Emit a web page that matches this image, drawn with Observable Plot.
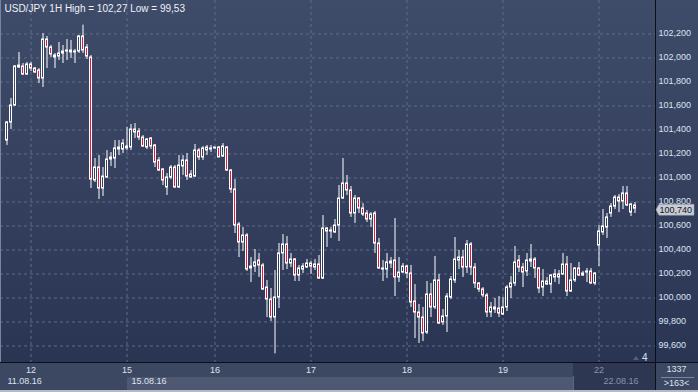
<!DOCTYPE html>
<html><head><meta charset="utf-8">
<script src="https://cdn.jsdelivr.net/npm/d3@7"></script>
<script src="https://cdn.jsdelivr.net/npm/@observablehq/plot@0.6"></script>
<style>
html,body{margin:0;padding:0;background:#2b3655;}
#chart{width:698px;height:392px;overflow:hidden;}
#chart svg{display:block;}
</style></head><body><div id="chart"></div>
<script>
// ---- data (USD/JPY, 1H candles) ----
const opens = [101.308,101.458,101.600,101.917,101.925,101.858,101.942,101.908,101.892,101.825,
102.150,102.083,102.017,102.008,102.033,102.050,102.042,102.042,102.050,102.175,
102.083,102.000,100.975,101.083,100.908,101.000,101.150,101.158,101.250,101.233,
101.242,101.250,101.400,101.383,101.333,101.250,101.325,101.267,101.142,101.067,
100.917,101.000,101.083,100.917,101.092,101.142,101.025,101.008,101.225,101.167,
101.250,101.233,101.242,101.250,101.175,101.250,101.058,100.900,100.608,100.458,
100.517,100.242,100.258,100.308,100.267,100.083,99.983,99.833,100.000,100.367,
100.442,100.283,100.317,100.183,100.233,100.250,100.283,100.250,100.275,100.158,
100.575,100.550,100.542,100.600,100.825,100.950,100.892,100.700,100.825,100.742,
100.700,100.650,100.700,100.450,100.233,100.233,100.283,100.308,100.167,100.208,
100.258,100.200,99.967,99.875,99.833,99.708,100.025,99.917,100.142,99.792,
99.842,100.000,100.142,100.308,100.333,100.250,100.442,100.250,100.117,100.067,
100.017,99.875,99.900,99.908,99.858,99.917,100.083,100.117,100.308,100.250,
100.217,100.300,100.317,100.242,100.083,100.133,100.108,100.192,100.167,100.192,
100.275,100.050,100.142,100.242,100.183,100.208,100.217,100.117,100.433,100.542,
100.583,100.700,100.758,100.833,100.800,100.867,100.708,100.767];
const highs = [101.467,101.658,101.933,102.042,101.950,101.958,101.958,101.917,101.908,102.200,
102.175,102.100,102.033,102.125,102.100,102.150,102.142,102.067,102.183,102.270,
102.108,102.017,101.158,101.183,101.083,101.225,101.208,101.308,101.308,101.317,
101.417,101.442,101.450,101.408,101.350,101.325,101.333,101.275,101.167,101.075,
101.033,101.100,101.100,101.183,101.183,101.200,101.058,101.275,101.242,101.258,
101.267,101.267,101.250,101.258,101.283,101.258,101.067,100.983,100.625,100.583,
100.533,100.333,100.400,100.367,100.283,100.142,100.075,100.225,100.450,100.525,
100.508,100.367,100.325,100.267,100.283,100.317,100.300,100.317,100.350,100.683,
100.583,100.583,100.650,100.933,101.158,101.017,100.925,100.850,100.833,100.783,
100.725,100.708,100.717,100.492,100.308,100.367,100.333,100.658,100.333,100.283,
100.267,100.267,100.108,99.942,99.917,100.133,100.117,100.342,100.192,99.900,
100.033,100.175,100.500,100.392,100.392,100.475,100.458,100.283,100.125,100.083,
100.033,99.958,99.992,100.008,100.000,100.100,100.175,100.425,100.350,100.283,
100.367,100.442,100.333,100.250,100.233,100.167,100.192,100.233,100.225,100.367,
100.342,100.283,100.250,100.292,100.217,100.242,100.242,100.208,100.600,100.733,
100.700,100.783,100.850,100.858,100.925,100.925,100.783,100.792];
const lows = [101.267,101.400,101.592,101.908,101.850,101.850,101.883,101.867,101.783,101.750,
101.908,102.000,101.908,101.975,101.950,101.975,101.992,101.950,102.033,102.033,
101.983,100.908,100.958,100.817,100.842,100.992,101.092,101.075,101.183,101.200,
101.225,101.225,101.325,101.308,101.250,101.233,101.233,101.083,101.050,100.933,
100.850,100.983,100.908,100.908,101.017,100.975,100.992,101.000,101.142,101.142,
101.183,101.208,101.233,101.167,101.167,101.050,100.867,100.533,100.333,100.383,
100.217,100.125,100.208,100.167,100.058,99.833,99.800,99.530,99.908,100.225,
100.233,100.250,100.133,100.133,100.200,100.242,100.192,100.225,100.150,100.150,
100.417,100.492,100.533,100.467,100.817,100.850,100.667,100.617,100.700,100.675,
100.625,100.583,100.367,100.233,100.133,100.158,100.242,100.008,100.125,100.200,
100.158,99.917,99.658,99.617,99.633,99.692,99.833,99.900,99.775,99.767,
99.708,99.983,100.117,100.233,100.167,100.200,100.183,100.075,100.042,100.000,
99.833,99.833,99.867,99.833,99.850,99.883,99.992,100.092,100.208,100.083,
100.175,100.250,100.158,100.033,100.008,100.100,100.033,100.125,100.108,100.183,
100.008,100.042,100.125,100.175,100.175,100.125,100.108,100.100,100.258,100.517,
100.492,100.667,100.733,100.708,100.733,100.758,100.675,100.700];
const closes = [101.458,101.600,101.925,101.933,101.858,101.942,101.908,101.875,101.825,102.150,
102.083,102.025,102.000,102.033,102.050,102.058,102.058,102.050,102.175,102.058,
102.008,100.983,101.083,100.908,101.008,101.150,101.167,101.242,101.233,101.283,
101.258,101.400,101.375,101.333,101.258,101.317,101.258,101.125,101.058,100.975,
101.000,101.083,100.917,101.100,101.142,101.008,101.000,101.225,101.167,101.242,
101.225,101.242,101.250,101.167,101.258,101.058,100.900,100.600,100.458,100.517,
100.233,100.258,100.292,100.267,100.067,99.983,99.833,100.000,100.367,100.442,
100.283,100.317,100.183,100.242,100.258,100.283,100.258,100.275,100.158,100.575,
100.550,100.558,100.600,100.825,100.950,100.892,100.700,100.825,100.742,100.692,
100.650,100.692,100.450,100.242,100.242,100.292,100.300,100.167,100.208,100.258,
100.200,99.958,99.875,99.833,99.700,100.025,99.917,100.142,99.783,99.842,
100.008,100.150,100.317,100.333,100.250,100.442,100.250,100.117,100.067,100.017,
99.875,99.917,99.917,99.867,99.917,100.083,100.117,100.292,100.250,100.208,
100.308,100.317,100.242,100.075,100.133,100.108,100.183,100.167,100.192,100.275,
100.050,100.142,100.242,100.183,100.200,100.217,100.117,100.200,100.550,100.592,
100.667,100.758,100.833,100.800,100.867,100.767,100.775,100.740];

const dayIndex  = [6, 30, 52, 76, 100, 124, 148];
const dayLabels = ["12", "15", "16", "17", "18", "19", "22"];
const dateIndex  = [-1, 30, 148];
const dateLabels = ["11.08.16", "15.08.16", "22.08.16"];
const priceTicks = [99.6, 99.8, 100.0, 100.2, 100.4, 100.6, 100.8, 101.0, 101.2, 101.4, 101.6, 101.8, 102.0, 102.2];
const titleText = "USD/JPY 1H High = 102,27 Low = 99,53";
const totalBars = "1337";
const visibleBars = ">163<";
const markerText = "4";
const scrollStart = 141.625;   // start of the highlighted (current) section on the time strip

// ---- styling ----
const RED = "#e5173d";
const TXT = "#dbe3f1";
const DIM = "#8a93a8";
const FONT = "'Liberation Sans', Arial, sans-serif";
const fmt = v => v.toFixed(3).replace(".", ",");

const candles = opens.map((o, i) => {
  const c = closes[i];
  const bot = Math.min(o, c);
  const top = Math.max(o, c, bot + 0.004);
  return {i, o, c, h: highs[i], l: lows[i], top, bot, up: c >= o};
});
const days = dayIndex.map((i, k) => ({i, t: dayLabels[k]}));
const dates = dateIndex.map((i, k) => ({i, t: dateLabels[k]}));
const lastClose = closes[closes.length - 1];

function background(index, scales, values, dims) {
  const {width, height, marginRight, marginBottom} = dims;
  const px = width - marginRight, py = height - marginBottom;
  const g = d3.create("svg:g");
  const lg = g.append("defs").append("linearGradient").attr("id", "bgGrad")
    .attr("x1", 0).attr("y1", 0).attr("x2", 0).attr("y2", 1);
  lg.append("stop").attr("offset", "0%").attr("stop-color", "#3f4c69");
  lg.append("stop").attr("offset", "100%").attr("stop-color", "#2a3554");
  g.append("rect").attr("x", 0).attr("y", 0).attr("width", width).attr("height", py).attr("fill", "url(#bgGrad)");
  g.append("rect").attr("x", 0).attr("y", py).attr("width", width).attr("height", marginBottom).attr("fill", "#3c4761");
  const xb = Math.round(scales.x(dayIndex[1])), xs = Math.round(scales.x(scrollStart));
  g.append("rect").attr("x", xb).attr("y", py + 15).attr("width", xs - xb).attr("height", 13).attr("fill", "#4e5971");
  g.append("rect").attr("x", xs).attr("y", py).attr("width", px - xs).attr("height", marginBottom).attr("fill", "#2d3751");
  g.append("line").attr("x1", xs + 0.5).attr("x2", xs + 0.5).attr("y1", py + 14).attr("y2", height).attr("stroke", "#5b6680");
  return g.node();
}

function foreground(index, scales, values, dims) {
  const {width, height, marginRight, marginBottom} = dims;
  const px = width - marginRight, py = height - marginBottom;
  const g = d3.create("svg:g").attr("font-family", FONT).attr("font-size", 9).attr("text-anchor", "start");
  g.append("line").attr("x1", px + 0.5).attr("x2", px + 0.5).attr("y1", 0).attr("y2", height).attr("stroke", "#0c0f18");
  g.append("line").attr("x1", 0).attr("x2", width).attr("y1", py + 0.5).attr("y2", py + 0.5).attr("stroke", "#0c0f18");
  g.append("rect").attr("x", 0).attr("y", 0).attr("width", 1).attr("height", py).attr("fill", "#7a859c");
  g.append("rect").attr("x", 0).attr("y", height - 2).attr("width", width).attr("height", 2).attr("fill", "#b4bac6");
  const cx = (px + width) / 2;
  g.append("text").attr("x", cx).attr("y", py + 10).attr("text-anchor", "middle").style("fill", TXT).text(totalBars);
  g.append("line").attr("x1", px + 6).attr("x2", width - 4).attr("y1", py + 15.5).attr("y2", py + 15.5).attr("stroke", "#7d879c");
  g.append("text").attr("x", cx).attr("y", py + 24).attr("text-anchor", "middle").style("fill", TXT).text(visibleBars);
  g.append("polygon").attr("points", `${px - 22},${py - 2} ${px - 16},${py - 2} ${px - 19},${py - 6}`).attr("fill", "#56617a");
  g.append("text").attr("x", px - 13).attr("y", py - 1).attr("text-anchor", "start").attr("font-size", 10).style("fill", TXT).text(markerText);
  const y = scales.y(lastClose) + 1.5;
  g.append("polygon")
    .attr("points", `${px + 1},${y} ${px + 4},${y - 5.5} ${px + 39},${y - 5.5} ${px + 39},${y + 5.5} ${px + 4},${y + 5.5}`)
    .style("fill", "#c8ccd4").style("stroke", "#9aa0ab").style("stroke-width", 0.5);
  g.append("text").attr("x", px + 4.5).attr("y", y).attr("dy", "0.35em").attr("text-anchor", "start")
    .style("fill", "#15181f").style("font-size", "9px").text(fmt(lastClose));
  return g.node();
}

const chart = Plot.plot({
  width: 698, height: 392,
  marginLeft: 0, marginRight: 43, marginTop: 0, marginBottom: 30,
  x: {type: "linear", domain: [-1.625, 162.125], axis: null},
  y: {type: "linear", domain: [99.4583, 102.475], axis: null},
  style: {background: "transparent", fontFamily: FONT, fontSize: "9px", overflow: "visible"},
  marks: [
    background,
    Plot.ruleY(priceTicks, {y: d => d, dy: 0.5, stroke: "#5e6c8c", strokeDasharray: "3,3"}),
    Plot.ruleX(dayIndex, {x: d => d, stroke: "#5e6c8c", strokeDasharray: "3,3"}),
    Plot.ruleX(candles, {x: "i", y1: "h", y2: "top", stroke: "#ffffff", strokeWidth: 1}),
    Plot.ruleX(candles, {x: "i", y1: "bot", y2: "l", stroke: "#ffffff", strokeWidth: 1}),
    Plot.rect(candles.filter(d => !d.up), {x1: d => d.i - 0.25, x2: d => d.i + 0.25, y1: "bot", y2: "top", fill: RED, stroke: "#ffffff", strokeWidth: 1}),
    Plot.rect(candles.filter(d => d.up), {x1: d => d.i - 0.25, x2: d => d.i + 0.25, y1: "bot", y2: "top", fill: "none", stroke: "#ffffff", strokeWidth: 1}),
    Plot.text(priceTicks, {y: d => d, text: fmt, frameAnchor: "right", dx: 3, textAnchor: "start", fill: TXT, fontSize: 9}),
    Plot.text(days.filter(d => d.i < scrollStart), {x: "i", text: "t", frameAnchor: "bottom", dy: 10, fill: TXT, fontSize: 9}),
    Plot.text(days.filter(d => d.i >= scrollStart), {x: "i", text: "t", frameAnchor: "bottom", dy: 10, fill: DIM, fontSize: 9}),
    Plot.text(dates.filter(d => d.i < scrollStart), {x: "i", text: "t", frameAnchor: "bottom", dy: 21, dx: 4.5, textAnchor: "start", fill: TXT, fontSize: 9}),
    Plot.text(dates.filter(d => d.i >= scrollStart), {x: "i", text: "t", frameAnchor: "bottom", dy: 21, dx: 4.5, textAnchor: "start", fill: DIM, fontSize: 9}),
    Plot.text([titleText], {frameAnchor: "top-left", dx: 4, dy: 8, lineAnchor: "middle", textAnchor: "start", fill: "#eef1f7", fontSize: 10}),
    foreground
  ]
});
document.getElementById("chart").appendChild(chart);
</script>
</body></html>
